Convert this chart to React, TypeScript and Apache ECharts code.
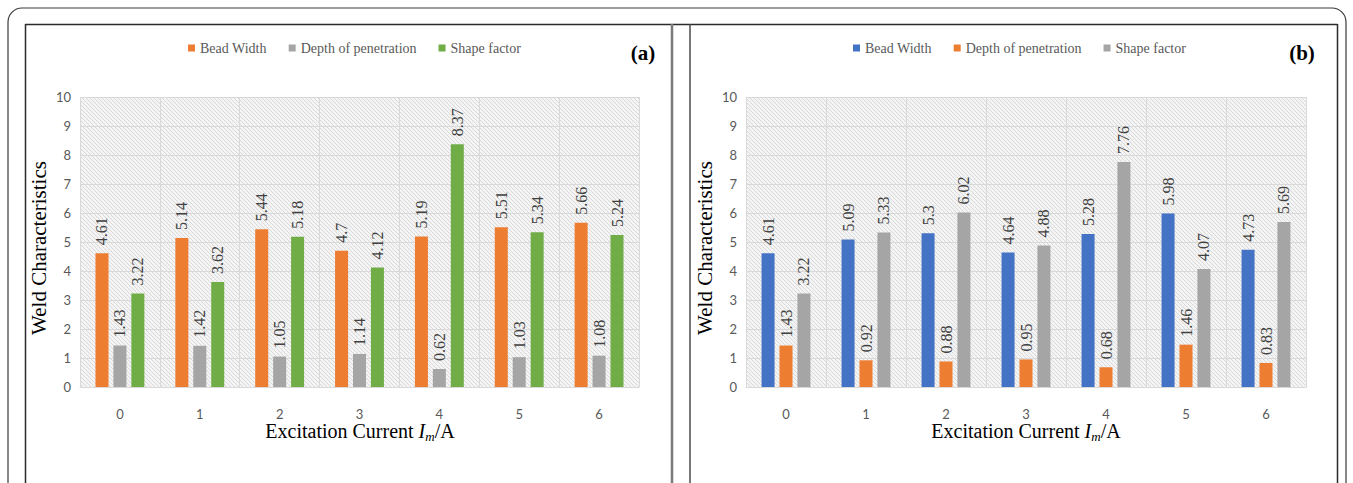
import React, { useEffect, useRef } from "react";
import * as echarts from "echarts";

const categories = ["0", "1", "2", "3", "4", "5", "6"];
const seriesNames = ["Bead Width", "Depth of penetration", "Shape factor"];

const beadWidthA = [4.61, 5.14, 5.44, 4.7, 5.19, 5.51, 5.66];
const depthA = [1.43, 1.42, 1.05, 1.14, 0.62, 1.03, 1.08];
const shapeA = [3.22, 3.62, 5.18, 4.12, 8.37, 5.34, 5.24];

const beadWidthB = [4.61, 5.09, 5.3, 4.64, 5.28, 5.98, 4.73];
const depthB = [1.43, 0.92, 0.88, 0.95, 0.68, 1.46, 0.83];
const shapeB = [3.22, 5.33, 6.02, 4.88, 7.76, 4.07, 5.69];

const colorsA = ["#ED7D31", "#A5A5A5", "#70AD47"];
const colorsB = ["#4472C4", "#ED7D31", "#A5A5A5"];

const yTicks = { min: 0, max: 10, interval: 1 };

const SERIF = "Liberation Serif";
const SANS = "Lato";

function hatchUrl(): string {
  const svg =
    "<svg xmlns='http://www.w3.org/2000/svg' width='4' height='4'>" +
    "<rect width='4' height='4' fill='#f4f4f4'/>" +
    "<path d='M0,0 L4,4 M-1,3 L1,5 M3,-1 L5,1' stroke='#d6d6d6' stroke-width='0.9'/>" +
    "</svg>";
  return "data:image/svg+xml;charset=utf-8," + encodeURIComponent(svg);
}

export default function App() {
  const ref = useRef<HTMLDivElement>(null);

  useEffect(() => {
    if (!ref.current) return;
    const chart = echarts.init(ref.current, null, { renderer: "svg" });
    const pattern: any = {
      image: hatchUrl(),
      repeat: "repeat",
      imageWidth: 4,
      imageHeight: 4,
    };

    const grids = [
      { left: 80, top: 97, width: 559, height: 290 },
      { left: 746, top: 97, width: 560, height: 290 },
    ];

    const makeSeries = (
      data: number[],
      name: string,
      color: string,
      gi: number
    ) => ({
      type: "bar",
      name,
      xAxisIndex: gi,
      yAxisIndex: gi,
      data,
      barWidth: 13,
      barGap: "38%",
      itemStyle: { color },
      label: {
        show: true,
        position: "top",
        rotate: 90,
        align: "left",
        verticalAlign: "middle",
        distance: 8,
        fontFamily: SERIF,
        fontSize: 16,
        color: "#404040",
      },
    });

    const legendCommon = {
      top: 36,
      itemWidth: 7,
      itemHeight: 7,
      itemGap: 22,
      icon: "rect",
      textStyle: { fontFamily: SERIF, fontSize: 14, color: "#595959" },
      selectedMode: false,
    };

    const xAxisName = (cx: number) => ({
      type: "text",
      x: cx,
      y: 431,
      style: {
        text: "{n|Excitation Current }{i|I}{s|m}{n|/A}",
        align: "center",
        verticalAlign: "middle",
        fill: "#000",
        rich: {
          n: { fontFamily: SERIF, fontSize: 20, color: "#000" },
          i: { fontFamily: SERIF, fontSize: 20, fontStyle: "italic", color: "#000" },
          s: {
            fontFamily: SERIF,
            fontSize: 13,
            fontStyle: "italic",
            color: "#000",
            padding: [10, 0, 0, 0],
          },
        },
      },
    });

    const yAxisName = (cx: number) => ({
      type: "text",
      x: cx,
      y: 248,
      rotation: Math.PI / 2,
      style: {
        text: "Weld Characteristics",
        align: "center",
        verticalAlign: "middle",
        fontFamily: SERIF,
        fontSize: 21,
        fill: "#000",
      },
    });

    const option: any = {
      animation: false,
      backgroundColor: "#fff",
      grid: grids.map((g) => ({
        ...g,
        show: true,
        backgroundColor: pattern,
        borderWidth: 0,
      })),
      legend: [
        {
          ...legendCommon,
          left: 183,
          data: seriesNames.map((n, i) => ({ name: n, itemStyle: { color: colorsA[i] } })),
        },
        {
          ...legendCommon,
          left: 848,
          data: seriesNames.map((n, i) => ({ name: n, itemStyle: { color: colorsB[i] } })),
        },
      ],
      xAxis: [0, 1].map((gi) => ({
        type: "category",
        gridIndex: gi,
        data: categories,
        axisTick: { show: false },
        axisLine: { show: true, lineStyle: { color: "#d9d9d9" } },
        axisLabel: { fontFamily: SANS, fontSize: 13, color: "#595959", margin: 20 },
        splitLine: { show: true, lineStyle: { color: "#d9d9d9", width: 1 } },
      })),
      yAxis: [0, 1].map((gi) => ({
        type: "value",
        gridIndex: gi,
        min: yTicks.min,
        max: yTicks.max,
        interval: yTicks.interval,
        axisLine: { show: false },
        axisTick: { show: false },
        axisLabel: { fontFamily: SANS, fontSize: 13, color: "#595959", margin: 9 },
        splitLine: { show: true, lineStyle: { color: "#d9d9d9", width: 1 } },
      })),
      series: [
        makeSeries(beadWidthA, seriesNames[0], colorsA[0], 0),
        makeSeries(depthA, seriesNames[1], colorsA[1], 0),
        makeSeries(shapeA, seriesNames[2], colorsA[2], 0),
        makeSeries(beadWidthB, seriesNames[0], colorsB[0], 1),
        makeSeries(depthB, seriesNames[1], colorsB[1], 1),
        makeSeries(shapeB, seriesNames[2], colorsB[2], 1),
      ],
      graphic: [
        {
          type: "rect",
          shape: { x: 8, y: 8, width: 1338, height: 520, r: 14 },
          style: { fill: "none", stroke: "#3a3a3a", lineWidth: 1.2 },
          silent: true,
        },
        {
          type: "line",
          shape: { x1: 25, y1: 24.5, x2: 1337.5, y2: 24.5 },
          style: { stroke: "#2a2a2a", lineWidth: 1.5 },
        },
        {
          type: "line",
          shape: { x1: 25.5, y1: 24, x2: 25.5, y2: 490 },
          style: { stroke: "#2a2a2a", lineWidth: 1.5 },
        },
        {
          type: "line",
          shape: { x1: 672, y1: 24, x2: 672, y2: 490 },
          style: { stroke: "#7a7a7a", lineWidth: 2.5 },
        },
        {
          type: "line",
          shape: { x1: 690, y1: 24, x2: 690, y2: 490 },
          style: { stroke: "#4a4a4a", lineWidth: 1.5 },
        },
        {
          type: "line",
          shape: { x1: 1337.5, y1: 24, x2: 1337.5, y2: 490 },
          style: { stroke: "#2a2a2a", lineWidth: 1.5 },
        },
        {
          type: "text",
          x: 643,
          y: 53,
          style: {
            text: "(a)",
            align: "center",
            verticalAlign: "middle",
            fontFamily: SERIF,
            fontWeight: "bold",
            fontSize: 21,
            fill: "#000",
          },
        },
        {
          type: "text",
          x: 1302,
          y: 53,
          style: {
            text: "(b)",
            align: "center",
            verticalAlign: "middle",
            fontFamily: SERIF,
            fontWeight: "bold",
            fontSize: 21,
            fill: "#000",
          },
        },
        yAxisName(39),
        yAxisName(705),
        xAxisName(360),
        xAxisName(1026),
      ],
    };

    chart.setOption(option);
    return () => chart.dispose();
  }, []);

  return (
    <div
      ref={ref}
      style={{ position: "absolute", left: 0, top: 0, width: 1353, height: 483 }}
    />
  );
}
